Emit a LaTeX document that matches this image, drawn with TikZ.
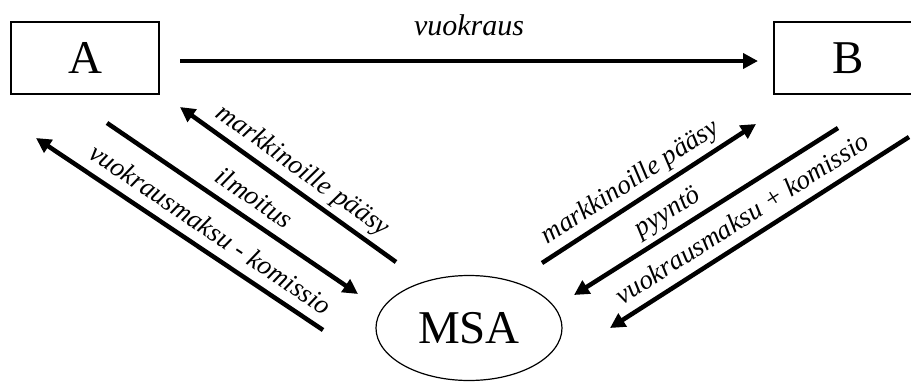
\documentclass[tikz,border=0pt]{standalone}
\usepackage{fontspec}
\setmainfont{Liberation Serif}
\usetikzlibrary{arrows.meta,shapes.geometric}
\begin{document}
\begin{tikzpicture}[x=1pt,y=-1pt,
  party/.style={draw, line width=1.2pt, minimum width=148pt, minimum height=72pt,
    inner sep=0pt, font=\fontsize{47}{50}\selectfont},
  hub/.style={draw, ellipse, line width=1.2pt, minimum width=186pt, minimum height=105pt,
    inner sep=0pt, font=\fontsize{47}{50}\selectfont},
  tipshape/.tip={Triangle[length=15pt,width=15pt]},
  flow/.style={line width=4.5pt, -tipshape},
  backflow/.style={line width=4.5pt, tipshape-},
  lbl/.style={font=\fontsize{27}{30}\selectfont\itshape, inner sep=0pt,
    text height=0.7em, text depth=0.22em, sloped, above=8pt},
  toplbl/.style={font=\fontsize{30}{33}\selectfont\itshape, inner sep=0pt,
    text height=0.7em, text depth=0.22em, above=21pt}
]
\useasboundingbox (0,0) rectangle (911,381);
\clip (0,0) rectangle (911,381);

% the three parties
\node[party] (A) at (85,58) {A};
\node[party] (B) at (848,58) {B};
\node[hub] (M) at (469,328) {MSA};

% end points of the flows
\coordinate (h0) at (180,61);  \coordinate (h1) at (758,61);
\coordinate (la0) at (180,107); \coordinate (la1) at (396,262);
\coordinate (lb0) at (107,123); \coordinate (lb1) at (358,294);
\coordinate (lc0) at (36,138);  \coordinate (lc1) at (323,330);
\coordinate (ra0) at (542,263); \coordinate (ra1) at (756,124);
\coordinate (rb0) at (574,295); \coordinate (rb1) at (838,128);
\coordinate (rc0) at (610,328); \coordinate (rc1) at (909,137);

% A -> B
\draw[flow] (h0) -- (h1) node[midway, toplbl] {vuokraus};

% between A and MSA
\draw[backflow] (la0) -- (la1) node[lbl, pos=0.515] {markkinoille pääsy};
\draw[flow] (lb0) -- (lb1) node[lbl, pos=0.54] {ilmoitus};
\draw[backflow] (lc0) -- (lc1) node[lbl, pos=0.567] {vuokrausmaksu - komissio};

% between MSA and B
\draw[flow] (ra0) -- (ra1) node[lbl, pos=0.463] {markkinoille pääsy};
\draw[backflow] (rb0) -- (rb1) node[lbl, pos=0.394] {pyyntö};
\draw[backflow] (rc0) -- (rc1) node[lbl, pos=0.48] {vuokrausmaksu + komissio};
\end{tikzpicture}
\end{document}
